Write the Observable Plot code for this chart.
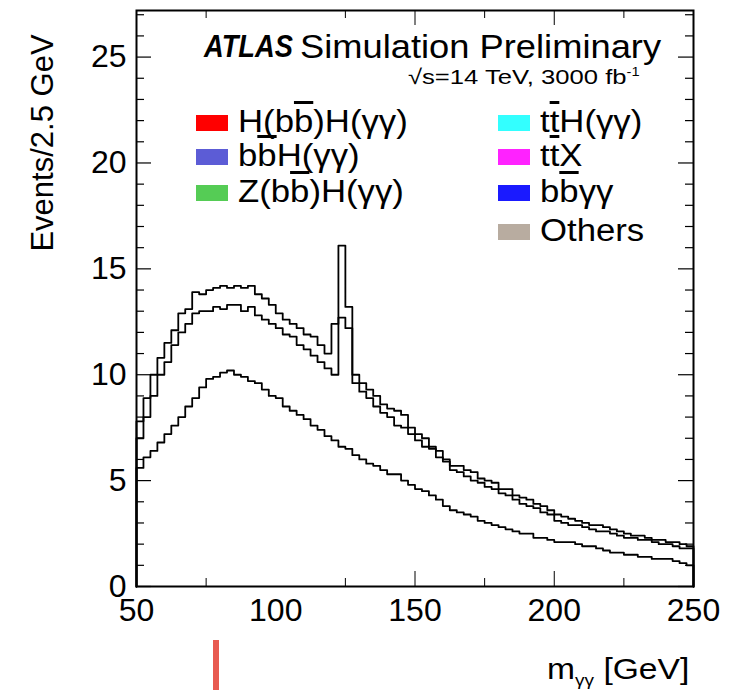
<!DOCTYPE html>
<html>
<head>
<meta charset="utf-8">
<script src="https://cdn.jsdelivr.net/npm/d3@7"></script>
<script src="https://cdn.jsdelivr.net/npm/@observablehq/plot@0.6"></script>
<style>
  html, body { margin: 0; padding: 0; background: white; }
  #wrap { position: relative; width: 731px; height: 695px; font-family: "Liberation Sans", Arial, sans-serif; color: black; }
  .t { position: absolute; white-space: nowrap; line-height: 1; transform-origin: 0 50%; }
  .ov { text-decoration: overline; }
  .box { position: absolute; width: 32px; height: 16px; }
</style>
</head>
<body>
<div id="wrap"></div>
<script>
// Bin edges: 80 bins of 2.5 GeV from 50 to 250
const binLow = 50;
const binWidth = 2.5;
const xTicksMajor = [50, 150, 200, 250];
const xTicksMinor = [75, 125, 175, 225];
const xTickLabels = [50, 100, 150, 200, 250];
const yTicksMajor = [0, 5, 10, 15, 20, 25];
const yTicksMinor = [1,2,3,4,6,7,8,9,11,12,13,14,16,17,18,19,21,22,23,24,26,27];

// lowest curve
const seriesA = [5.6,6.1,6.4,6.8,7.2,7.6,8.0,8.5,8.9,9.4,
                 9.8,9.9,10.1,10.2,10.0,9.9,9.7,9.6,9.3,9.0,
                 8.9,8.5,8.3,8.1,7.9,7.6,7.4,7.1,6.9,6.6,
                 6.5,6.2,6.0,5.8,5.7,5.5,5.3,5.3,5.0,4.8,
                 4.6,4.5,4.3,4.1,3.8,3.6,3.5,3.4,3.3,3.1,
                 3.0,2.9,2.8,2.7,2.6,2.5,2.5,2.3,2.3,2.2,
                 2.1,2.1,2.1,2.0,1.9,1.9,1.8,1.7,1.6,1.6,
                 1.5,1.5,1.4,1.4,1.3,1.3,1.3,1.2,1.1,1.0];
// middle curve
const seriesB = [7.0,8.0,9.0,10.0,10.6,11.4,12.0,12.4,12.9,13.0,
                 13.0,13.2,13.1,13.3,13.3,13.0,13.2,12.8,12.6,12.4,
                 12.2,11.9,11.8,11.4,11.2,10.9,10.6,10.3,10.0,12.7,
                 12.2,9.6,9.2,8.9,8.5,8.2,8.0,7.6,7.5,7.2,
                 6.9,6.6,6.5,6.1,5.9,5.5,5.4,5.2,5.0,4.9,
                 4.7,4.6,4.4,4.3,4.1,3.9,3.8,3.7,3.5,3.4,
                 3.1,3.0,2.9,2.9,2.8,2.7,2.6,2.6,2.5,2.4,
                 2.3,2.3,2.2,2.2,2.1,2.0,2.0,1.9,1.8,1.8];
// top curve
const seriesC = [7.8,8.9,10.0,10.8,11.5,12.1,12.9,13.1,13.9,13.8,
                 14.0,14.1,14.2,14.1,14.2,14.1,14.2,13.8,13.6,13.3,
                 12.9,12.6,12.4,12.2,11.9,11.8,11.4,11.0,12.4,16.1,
                 13.2,10.0,9.6,9.3,9.0,8.6,8.4,8.3,8.1,7.5,
                 7.2,7.0,6.6,6.4,6.0,5.7,5.7,5.5,5.4,5.1,
                 5.0,4.9,4.6,4.6,4.3,4.2,4.1,3.9,3.8,3.6,
                 3.4,3.3,3.2,3.1,3.0,2.9,2.9,2.8,2.7,2.6,
                 2.5,2.4,2.4,2.3,2.2,2.2,2.1,2.1,2.0,1.9];

const legendLeft = [
  {html: 'H(b<span class="ov">b</span>)H(γγ)', color: "#ff0000"},
  {html: 'b<span class="ov">b</span>H(γγ)', color: "#5c5cd6"},
  {html: 'Z(b<span class="ov">b</span>)H(γγ)', color: "#55cc55"}
];
const legendRight = [
  {html: 't<span class="ov">t</span>H(γγ)', color: "#33ffff"},
  {html: 't<span class="ov">t</span>X', color: "#ff22ff"},
  {html: 'b<span class="ov">b</span>γγ', color: "#1a1aff"},
  {html: 'Others', color: "#b8aca0"}
];

function steps(vals) {
  const pts = [{x: binLow, y: 0}];
  vals.forEach((v, i) => pts.push({x: binLow + binWidth * i, y: v}));
  pts.push({x: binLow + binWidth * vals.length, y: vals[vals.length - 1]});
  pts.push({x: binLow + binWidth * vals.length, y: 0});
  return pts;
}

const W = 731, H = 695;
const mL = 136, mR = 38, mT = 10, mB = 109;
const yMax = 27.2;
const pxPerY = (H - mT - mB) / yMax;
const pxPerX = (W - mL - mR) / 200;
const majY = 15 / pxPerY, minY = 8 / pxPerY;
const majX = 15 / pxPerX, minX = 8 / pxPerX;

const lineOpts = {x: "x", y: "y", curve: "step-after", stroke: "black", strokeWidth: 1.8};

const chart = Plot.plot({
  width: W, height: H,
  marginLeft: mL, marginRight: mR, marginTop: mT, marginBottom: mB,
  x: {domain: [50, 250]},
  y: {domain: [0, yMax]},
  style: {fontFamily: "Liberation Sans, Arial, sans-serif", fontSize: "32px", background: "white", color: "black", overflow: "visible"},
  marks: [
    Plot.line(steps(seriesA), lineOpts),
    Plot.line(steps(seriesB), lineOpts),
    Plot.line(steps(seriesC), lineOpts),
    // x ticks bottom & top
    Plot.ruleX(xTicksMajor, {y1: 0, y2: majY, stroke: "black", strokeWidth: 1}),
    Plot.ruleX(xTicksMinor, {y1: 0, y2: minY, stroke: "black", strokeWidth: 1}),
    Plot.ruleX(xTicksMajor, {y1: yMax, y2: yMax - majY, stroke: "black", strokeWidth: 1}),
    Plot.ruleX(xTicksMinor, {y1: yMax, y2: yMax - minY, stroke: "black", strokeWidth: 1}),
    // y ticks left & right
    Plot.ruleY(yTicksMajor, {x1: 50, x2: 50 + majX, stroke: "black", strokeWidth: 1.2}),
    Plot.ruleY(yTicksMinor, {x1: 50, x2: 50 + minX, stroke: "black", strokeWidth: 1.2}),
    Plot.ruleY(yTicksMajor, {x1: 250, x2: 250 - majX, stroke: "black", strokeWidth: 1.2}),
    Plot.ruleY(yTicksMinor, {x1: 250, x2: 250 - minX, stroke: "black", strokeWidth: 1.2}),
    Plot.axisX({ticks: xTickLabels, tickSize: 0, tickPadding: 12, label: null, fontSize: 32}),
    Plot.axisY({ticks: yTicksMajor, tickSize: 0, tickPadding: 10, label: null, fontSize: 32}),
    Plot.frame({stroke: "black", strokeWidth: 2})
  ]
});

const wrap = document.getElementById("wrap");
chart.style.position = "absolute";
chart.style.left = "0px";
chart.style.top = "0px";
wrap.appendChild(chart);

function addText(html, left, top, size, extra) {
  const d = document.createElement("div");
  d.className = "t";
  d.innerHTML = html;
  d.style.left = left + "px";
  d.style.top = top + "px";
  d.style.fontSize = size + "px";
  if (extra) Object.assign(d.style, extra);
  wrap.appendChild(d);
  return d;
}

addText('<b><i>ATLAS</i></b>', 204, 31, 31, {transform: "scaleX(0.88)"});
addText('Simulation Preliminary', 300, 30, 33, {transform: "scaleX(1.1)"});
addText('√s=14 TeV, 3000 fb<sup style="font-size:12px">-1</sup>', 408, 66, 21, {transform: "scaleX(1.22)"});

legendLeft.forEach((e, i) => {
  const top = [115, 149, 185][i];
  const b = document.createElement("div");
  b.className = "box"; b.style.background = e.color;
  b.style.left = "196px"; b.style.top = top + "px";
  wrap.appendChild(b);
  addText(e.html, 238, top - 9, 31, {transform: "scaleX(1.12)"});
});
legendRight.forEach((e, i) => {
  const top = [115, 149, 185, 224][i];
  const b = document.createElement("div");
  b.className = "box"; b.style.background = e.color;
  b.style.left = "498px"; b.style.top = top + "px";
  wrap.appendChild(b);
  addText(e.html, 540, top - 9, 31, {transform: "scaleX(1.12)"});
});

addText('Events/2.5 GeV', 42, 143, 31, {transform: "translate(-50%,-50%) rotate(-90deg)", transformOrigin: "50% 50%"});
addText('m<sub style="font-size:17px">γγ</sub> [GeV]', 547, 654, 30, {transform: "scaleX(1.12)"});

// scanning artefact visible in the reference under the axis
const art = document.createElement("div");
art.style.cssText = "position:absolute;left:213px;top:640px;width:6px;height:50px;background:#e85a50;";
wrap.appendChild(art);
</script>
</body>
</html>
